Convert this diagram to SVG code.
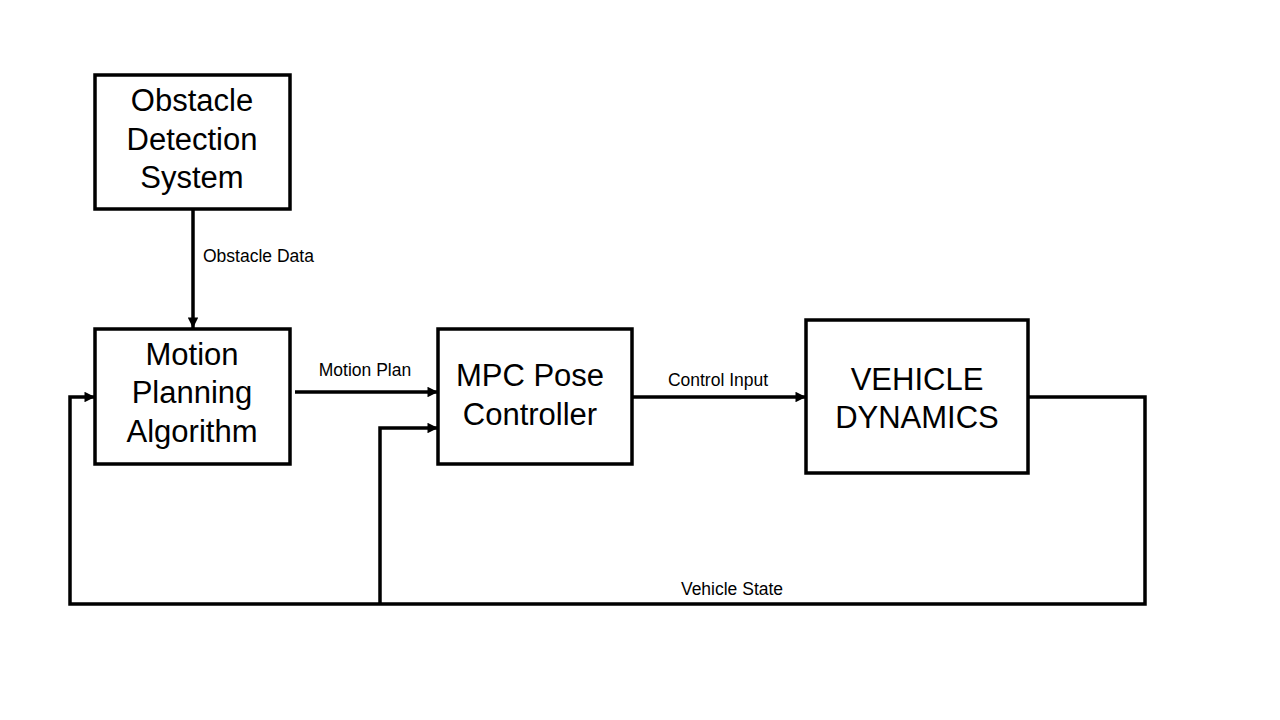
<svg xmlns="http://www.w3.org/2000/svg" width="1280" height="720" viewBox="0 0 1280 720">
<style>
.box{fill:#fff;stroke:#000;stroke-width:3.5}
.big{font-family:"Liberation Sans",Arial,sans-serif;font-size:31px;fill:#000;text-anchor:middle}
.lbl{font-family:"Liberation Sans",Arial,sans-serif;font-size:17.5px;fill:#000}
.c{fill:none;stroke:#000;stroke-width:3.5}
</style>
<defs>
<marker id="ah" viewBox="0 0 10 10" refX="10" refY="5" markerWidth="3.2" markerHeight="3" orient="auto" markerUnits="strokeWidth">
<path d="M0,0 L10,5 L0,10 z" fill="#000"/>
</marker>
</defs>
<rect width="1280" height="720" fill="#fff"/>
<g id="connectors">
<path class="c" d="M193,209 L193,328" marker-end="url(#ah)"/>
<path class="c" d="M295,392 L438,392" marker-end="url(#ah)"/>
<path class="c" d="M632,397 L806,397" marker-end="url(#ah)"/>
<path class="c" d="M1028,397 L1145,397 L1145,604 L70,604 L70,397 L95,397" marker-end="url(#ah)"/>
<path class="c" d="M380,604 L380,428 L438,428" marker-end="url(#ah)"/>
<text class="lbl" x="203" y="262">Obstacle Data</text>
<text class="lbl" x="365" y="376" text-anchor="middle">Motion Plan</text>
<text class="lbl" x="718" y="386" text-anchor="middle">Control Input</text>
<text class="lbl" x="732" y="595" text-anchor="middle">Vehicle State</text>
</g>
<g id="obstacle">
<rect class="box" x="95" y="75" width="195" height="134"/>
<text class="big" x="192" y="111">Obstacle</text>
<text class="big" x="192" y="150">Detection</text>
<text class="big" x="192" y="188">System</text>
</g>
<g id="motion">
<rect class="box" x="95" y="329" width="195" height="135"/>
<text class="big" x="192" y="365">Motion</text>
<text class="big" x="192" y="403">Planning</text>
<text class="big" x="192" y="442">Algorithm</text>
</g>
<g id="mpc">
<rect class="box" x="438" y="329" width="194" height="135"/>
<text class="big" x="530" y="386">MPC Pose</text>
<text class="big" x="530" y="425">Controller</text>
</g>
<g id="vehicle">
<rect class="box" x="806" y="320" width="222" height="153"/>
<text class="big" x="917" y="390">VEHICLE</text>
<text class="big" x="917" y="428">DYNAMICS</text>
</g>
</svg>
